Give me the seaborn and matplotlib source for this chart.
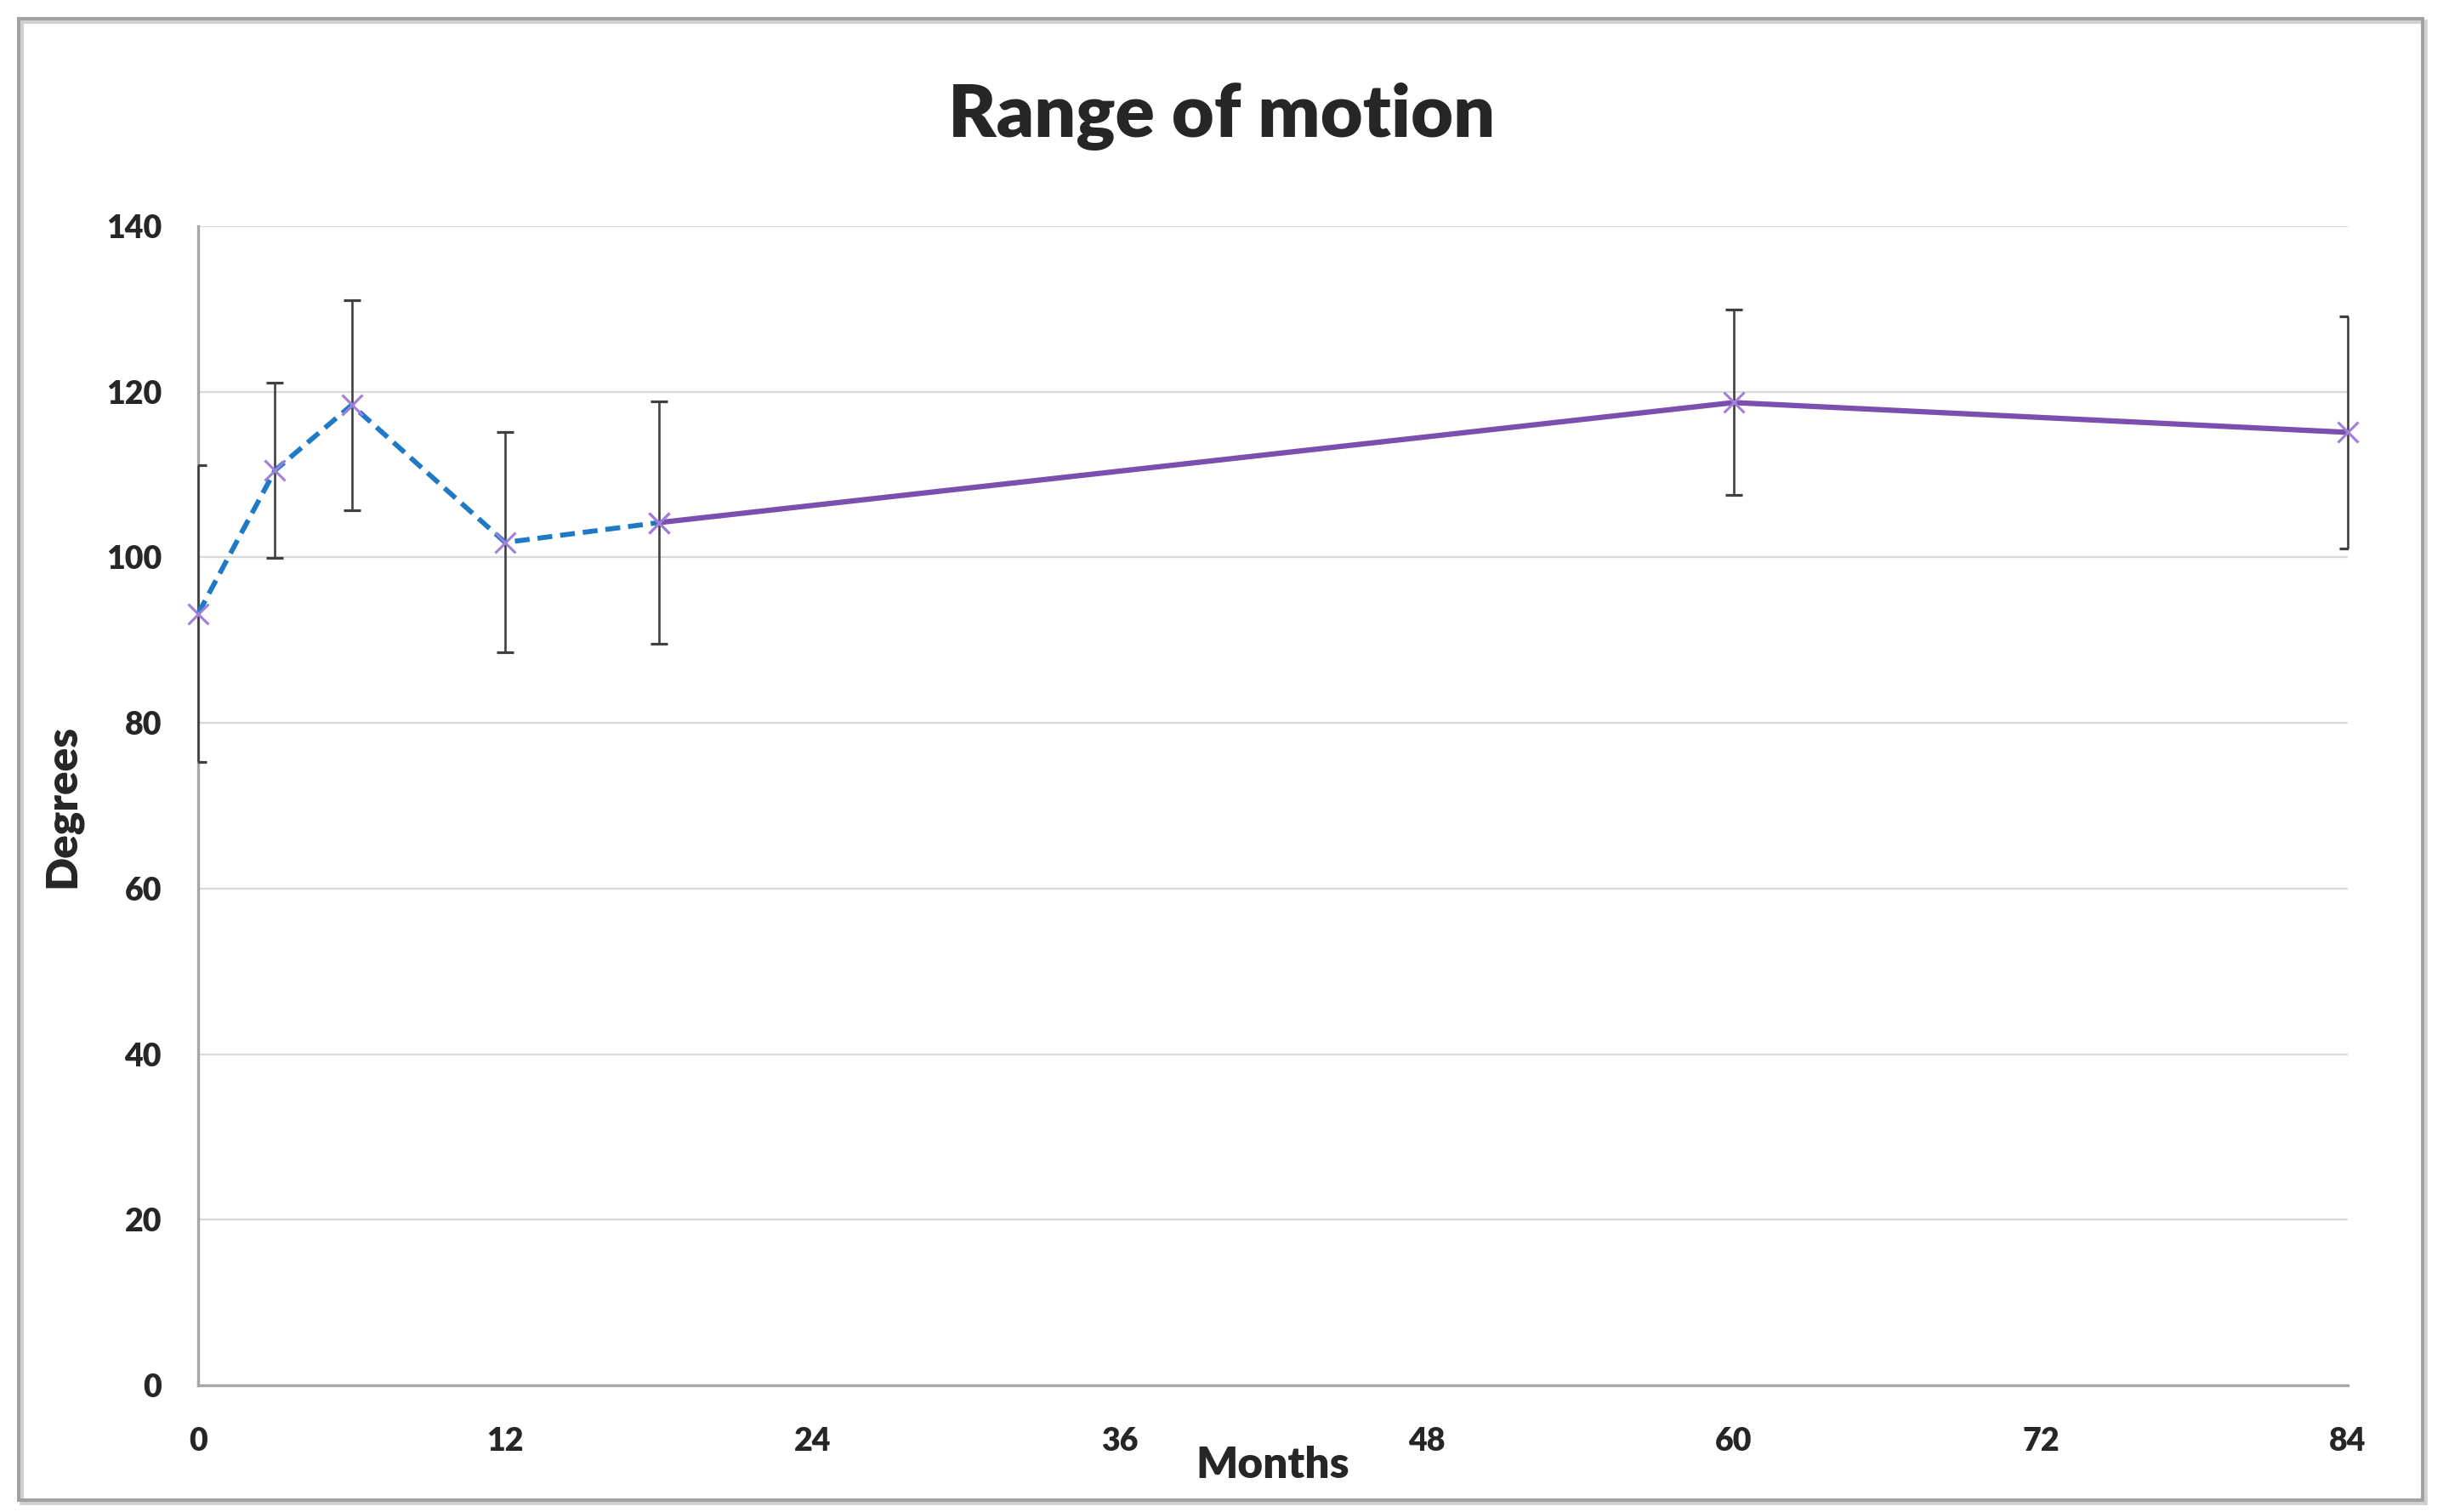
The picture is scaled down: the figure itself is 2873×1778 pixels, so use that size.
import matplotlib
matplotlib.use("Agg")
import matplotlib.pyplot as plt
from matplotlib.patches import Rectangle
from matplotlib.ticker import MultipleLocator
import seaborn as sns
import pandas as pd

# ---- data ----
months = [0, 3, 6, 12, 18, 60, 84]
rom_mean = [93.2, 110.5, 118.4, 101.8, 104.2, 118.7, 115.1]
rom_sd = [17.9, 10.6, 12.7, 13.3, 14.6, 11.2, 14.0]
early_idx = [0, 1, 2, 3, 4]   # dashed blue segment (0-18 months)
late_idx = [4, 5, 6]          # solid purple segment (18-84 months)
x_ticks = [0, 12, 24, 36, 48, 60, 72, 84]
y_ticks = [0, 20, 40, 60, 80, 100, 120, 140]

df = pd.DataFrame({"Months": months, "Degrees": rom_mean, "SD": rom_sd})
early = df.iloc[early_idx]
late = df.iloc[late_idx]

sns.set_style("white")
plt.rcParams["font.family"] = ["Lato", "DejaVu Sans"]
plt.rcParams["font.weight"] = "bold"

W, H = 2873, 1778
fig = plt.figure(figsize=(W / 100, H / 100), dpi=100)
ax = fig.add_axes([233 / W, 1 - 1629 / H, 2528 / W, 1363 / H])

# grid
ax.set_axisbelow(True)
ax.yaxis.grid(True, color="#D9D9D9", lw=1.6)
ax.xaxis.grid(False)

# error bars
eb = ax.errorbar(df["Months"], df["Degrees"], yerr=df["SD"], fmt="none",
                 ecolor="#404040", elinewidth=1.9, capsize=7, capthick=2.3, zorder=3)
for coll in eb[2]:
    coll.set_clip_on(False)
    coll.set_zorder(3)

blue = "#1F7AC6"
purple = "#7A4FAE"
mk = "#A07FD8"
sns.lineplot(data=early, x="Months", y="Degrees", ax=ax, color=blue, lw=4.2,
             dashes=False, linestyle=(0, (3.0, 1.6)), marker="x", markersize=17,
             markeredgecolor=mk, markeredgewidth=2.2, zorder=4, sort=False,
             clip_on=False)
sns.lineplot(data=late, x="Months", y="Degrees", ax=ax, color=purple, lw=4.5,
             marker="x", markersize=17, markeredgecolor=mk,
             markeredgewidth=2.2, zorder=4, sort=False, clip_on=False)

ax.set_xlim(0, 84)
ax.set_ylim(0, 140)
ax.set_xticks(x_ticks)
ax.set_yticks(y_ticks)
ax.xaxis.set_minor_locator(MultipleLocator(3))

for s in ["top", "right"]:
    ax.spines[s].set_visible(False)
for s in ["left", "bottom"]:
    ax.spines[s].set_color("#A6A6A6")
    ax.spines[s].set_linewidth(2.4)

ax.tick_params(axis="x", which="major", direction="out", length=11, width=2.2,
               color="#A6A6A6", pad=24, labelsize=27)
ax.tick_params(axis="x", which="minor", direction="out", length=6, width=2.0,
               color="#A6A6A6")
ax.tick_params(axis="y", which="major", direction="out", length=11, width=2.2,
               color="#A6A6A6", pad=20, labelsize=27)
ax.set_xticklabels([str(v) for v in x_ticks], fontweight="heavy", fontsize=27)
ax.set_yticklabels([str(v) for v in y_ticks], fontweight="heavy", fontsize=27)

ax.set_xlabel("Months", fontsize=37, fontweight="heavy")
ax.set_ylabel("Degrees", fontsize=37, fontweight="heavy")
ax.xaxis.set_label_coords(0.5, -0.052)
ax.yaxis.set_label_coords(-0.054, 0.5)

fig.text(0.5, 1 - 161 / H, "Range of motion", ha="center", va="baseline",
         fontsize=62, fontweight="heavy")

# outer chart frame
fig.patches.append(Rectangle((25 / W, 1 - 1767 / H), (2852 - 25) / W, (1767 - 25) / H,
                             transform=fig.transFigure, fill=False,
                             edgecolor="#D0D0D0", lw=3.5, zorder=0))
fig.patches.append(Rectangle((22 / W, 1 - 1764 / H), (2849 - 22) / W, (1764 - 22) / H,
                             transform=fig.transFigure, fill=False,
                             edgecolor="#A0A0A0", lw=2.8, zorder=1))

fig.savefig("out.png", dpi=100, facecolor="white")
